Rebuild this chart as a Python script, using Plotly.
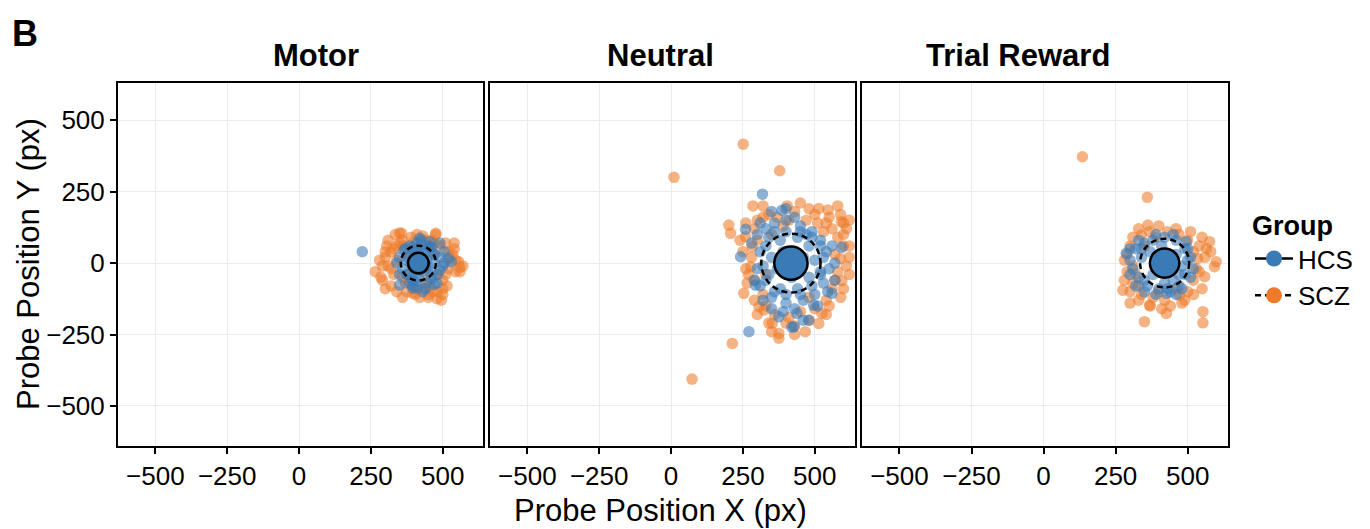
import plotly.graph_objects as go

# ---------------- data ----------------
panels = ["Motor", "Neutral", "Trial Reward"]
groups = ["HCS", "SCZ"]
tick_vals = [-500, -250, 0, 250, 500]
tick_text = ["\u2212500", "\u2212250", "0", "250", "500"]

# Motor
motor_hcs_x = [220, 350, 370, 385, 400, 410, 425, 440, 455, 470, 490, 505, 360, 380, 395, 415, 430, 445, 460, 480,
               500, 375, 390, 405, 420, 435, 450, 465, 395, 410, 425, 440, 455, 340, 520, 470, 430, 400, 385, 450,
               420, 490, 530, 350, 396,
               400, 440, 380, 460, 430, 395, 445, 470, 375, 410, 460, 490, 365, 420, 350, 505, 480, 415]
motor_hcs_y = [40, 20, 50, 60, 30, 70, 65, 45, 55, 30, 20, 0, -20, -40, -60, -50, -30, -70, -55, -40,
               -10, 10, -5, 15, 25, 5, -15, 35, -80, -85, 80, -90, 75, 0, 15, -75, -100, 45, -70, 60,
               87, 70, 5, -77, -88,
               -30, -20, 20, -40, 40, 55, 10, 0, -40, -65, 55, -25, 45, -25, -40, 40, -70, 40]
motor_scz_x = [265, 280, 290, 300, 310, 320, 335, 350, 365, 375, 390, 405, 420, 435, 450, 465, 480, 495, 510, 525,
               540, 560, 570, 300, 320, 340, 360, 380, 400, 430, 460, 490, 515, 545, 330, 350, 370, 445, 475, 500,
               520, 440, 470, 485, 310, 357, 476,
               285, 300, 320, 340, 360, 380, 395, 410, 455, 480, 500, 520, 535, 545, 510, 470, 440, 410, 360, 330,
               305, 290, 555, 500, 450, 540, 340, 560]
motor_scz_y = [-30, 10, -60, 40, 80, -80, 100, 105, 60, -100, 90, -110, -120, -90, -110, -100, -125, -130, -40, 20,
               50, -15, -10, 20, -20, 60, -50, 30, 75, 95, 80, 60, -80, 10, -40, 70, -70, -60, 100, -90,
               40, -20, 30, -40, -10, 104, 104,
               -50, -90, 40, -100, -120, -60, -105, -90, -80, -100, -60, -20, 30, -30, 70, 70, 80, 100, 80, 50,
               60, -10, 5, -110, -120, 70, 10, -30]

# Neutral
neutral_hcs_x = [318, 386, 259, 594, 242, 294, 560, 496, 479, 438, 427, 375, 271, 420,
                 330, 360, 400, 450, 490, 520, 540, 550, 530, 500, 460, 400, 350, 310, 300, 310, 340, 380, 440,
                 480, 500, 480, 440, 380, 340, 350, 390, 460, 420, 370, 520, 320, 470, 560, 390, 350, 510, 430,
                 300, 330, 320, 330, 360, 400, 450, 490, 520, 530, 520, 490, 450, 400, 360, 310, 570, 545, 350,
                 430, 290, 570, 280, 460, 400]
neutral_hcs_y = [241, 185, 118, 55, 22, -77, -106, -147, -200, -176, -223, -188, -240, -224,
                 120, 140, 150, 130, 110, 80, 40, -20, -70, -110, -130, -140, -120, -80, -20, 40, 90, 80, 90,
                 60, 10, -50, -90, -90, -40, 20, 40, 20, -50, -20, -40, -130, 100, 60, -170, -160, -150, 160,
                 100, 60, -10, -60, -100, -110, -110, -80, -30, 20, 60, 90, 110, 110, 110, 140, 0, -100, 180,
                 -160, -60, -60, 70, -200, 190]
neutral_scz_x = [10, 251, 378, 73, 213, 404, 514, 546, 592, 201, 207, 259, 589, 594, 282, 277, 253, 525, 514, 467,
                 375, 352, 306, 323, 375,
                 300, 340, 390, 430, 470, 510, 560, 580, 600, 570, 580, 560, 540, 500, 450, 410, 360, 320, 290, 280,
                 300, 330, 350, 480, 550, 610, 620, 270, 240, 260, 320, 450, 590, 480, 530, 400, 290, 600, 620, 570,
                 250, 265, 300, 340, 430, 480, 540, 600, 620, 610, 290, 320, 370, 410, 500, 540, 590, 580, 260, 350,
                 430, 550, 285, 620, 330, 600]
neutral_scz_y = [300, 416, 323, -406, -281, 200, 191, 186, 145, 133, 104, 92, 16, -62, 57, -13, -106, -176, -211, -240,
                 -246, -211, -153, -164, -263,
                 150, 170, 130, 180, 150, 140, 120, 90, 60, 30, -30, -90, -130, -160, -170, -190, -180, -110, -60, 20,
                 80, -40, 100, -120, 160, 120, -40, -40, 80, 140, 200, 210, -120, 190, 110, -210, -130, 100, 20, -60,
                 40, -70, -180, -210, -220, -200, -180, -90, 60, -10, 120, 160, 160, 150, 170, 140, 170, 200, -20, -240,
                 -250, -150, 200, 150, -150, 140]

# Trial Reward
trial_hcs_x = [287, 426, 495, 300, 320, 350, 380, 420, 460, 490, 500, 490, 470, 440, 400, 360, 330, 310, 340, 370,
               460, 480, 450, 380, 420, 350, 410, 510, 330, 460,
               300, 320, 350, 390, 430, 480, 510, 500, 450, 390, 340, 300, 470, 520]
trial_hcs_y = [34, -106, 75, 10, 50, 70, 80, 90, 80, 50, 10, -40, -80, -100, -90, -80, -50, -20, 20, 40,
               30, -10, -60, -40, -70, -100, 60, -50, 80, -110,
               -40, -80, -60, -110, -90, -90, 20, 50, 100, 100, 50, 50, -40, -20]
trial_scz_x = [135, 360, 362, 368, 339, 576, 565, 599, 593, 559, 281, 275, 368, 350, 426, 553, 553, 472, 535,
               300, 320, 310, 340, 380, 420, 460, 500, 520, 530, 520, 500, 470, 430, 390, 350, 290, 330, 400, 480,
               540, 300, 310, 440,
               290, 280, 300, 330, 370, 410, 490, 520, 550, 560, 550, 510, 460, 400, 330, 310, 580, 540]
trial_scz_y = [372, 230, 133, 110, 98, 75, 51, 5, -13, -48, 10, -95, -147, -205, -176, -170, -209, -112, 16,
               60, -40, -70, -110, -120, -130, -90, -100, -60, -20, 40, 80, 100, 110, 90, 60, -30, -130, -100, -140,
               60, -100, 90, -150,
               30, -60, -140, -80, -150, -160, -130, -110, -90, 20, 90, 110, 120, 130, 120, -10, 40, -30]

# group mean circles (centre and radius, in px units)
hcs_cx = [415, 417, 420]
hcs_cy = [0, 0, 0]
hcs_r = [36, 58, 51]
scz_cx = [415, 417, 420]
scz_cy = [0, 0, 0]
scz_r = [61, 103, 85]

# ---------------- styling ----------------
BLUE = "#3A7BB6"
ORANGE = "#EE7A2A"
FONT = "Liberation Sans, Arial, sans-serif"
W, H = 1370, 529

def px(x):
    return x / W

def py(y):
    return 1 - y / H

x_domains = [[118 / W, 483 / W], [490 / W, 855 / W], [862 / W, 1228 / W]]
y_domain = [1 - 446 / H, 1 - 83 / H]

data = [
    (motor_hcs_x, motor_hcs_y, motor_scz_x, motor_scz_y),
    (neutral_hcs_x, neutral_hcs_y, neutral_scz_x, neutral_scz_y),
    (trial_hcs_x, trial_hcs_y, trial_scz_x, trial_scz_y),
]

fig = go.Figure()
shapes = []
for i, (hx, hy, sx, sy) in enumerate(data):
    xa = "x" if i == 0 else f"x{i+1}"
    ya = "y" if i == 0 else f"y{i+1}"
    fig.add_trace(go.Scatter(x=sx, y=sy, mode="markers", xaxis=xa, yaxis=ya, showlegend=False,
                             marker=dict(color=ORANGE, size=11.5, opacity=0.58, line=dict(width=0))))
    fig.add_trace(go.Scatter(x=hx, y=hy, mode="markers", xaxis=xa, yaxis=ya, showlegend=False,
                             marker=dict(color=BLUE, size=11.5, opacity=0.58, line=dict(width=0))))
    shapes.append(dict(type="circle", xref=xa, yref=ya,
                       x0=scz_cx[i] - scz_r[i], x1=scz_cx[i] + scz_r[i],
                       y0=scz_cy[i] - scz_r[i], y1=scz_cy[i] + scz_r[i],
                       line=dict(color="black", width=2.5, dash="6px,4px"), fillcolor="rgba(0,0,0,0)"))
    shapes.append(dict(type="circle", xref=xa, yref=ya,
                       x0=hcs_cx[i] - hcs_r[i], x1=hcs_cx[i] + hcs_r[i],
                       y0=hcs_cy[i] - hcs_r[i], y1=hcs_cy[i] + hcs_r[i],
                       line=dict(color="black", width=2.5), fillcolor=BLUE))

# legend entries
fig.add_trace(go.Scatter(x=[None], y=[None], mode="lines+markers", name="HCS",
                         line=dict(color="black", width=2.5),
                         marker=dict(color=BLUE, size=16, line=dict(width=0))))
fig.add_trace(go.Scatter(x=[None], y=[None], mode="lines+markers", name="SCZ",
                         line=dict(color="black", width=2.5, dash="6px,4px"),
                         marker=dict(color=ORANGE, size=16, line=dict(width=0))))

axis_common = dict(showline=True, linecolor="black", linewidth=2, mirror=True,
                   showgrid=True, gridcolor="#EBEBEB", gridwidth=1, zeroline=False,
                   tickmode="array", tickvals=tick_vals, ticktext=tick_text,
                   ticks="outside", ticklen=6, tickwidth=2, tickcolor="black",
                   tickfont=dict(family=FONT, size=26, color="black"))

layout = dict(width=W, height=H, margin=dict(l=0, r=0, t=0, b=0),
              paper_bgcolor="white", plot_bgcolor="white", shapes=shapes,
              font=dict(family=FONT, color="black"))
for i in range(3):
    xk = "xaxis" if i == 0 else f"xaxis{i+1}"
    yk = "yaxis" if i == 0 else f"yaxis{i+1}"
    xa = dict(axis_common, domain=x_domains[i], range=[-630, 640],
              anchor="y" if i == 0 else f"y{i+1}")
    ya = dict(axis_common, domain=y_domain, range=[-640, 630],
              anchor="x" if i == 0 else f"x{i+1}")
    if i > 0:
        ya["showticklabels"] = False
        ya["ticks"] = ""
    layout[xk] = xa
    layout[yk] = ya

layout["legend"] = dict(x=px(1250), y=py(200), xanchor="left", yanchor="top",
                        title=dict(text="<b>Group</b>", font=dict(family=FONT, size=27)),
                        font=dict(family=FONT, size=26), bgcolor="rgba(0,0,0,0)",
                        itemwidth=38, tracegroupgap=0)

ann = []
ann.append(dict(text="<b>B</b>", x=px(10), y=py(33), xref="paper", yref="paper",
                xanchor="left", yanchor="middle", showarrow=False, font=dict(family=FONT, size=36)))
title_centers = [316, 660, 1018]
for name, c in zip(panels, title_centers):
    ann.append(dict(text=f"<b>{name}</b>", x=px(c), y=py(55), xref="paper", yref="paper",
                    xanchor="center", yanchor="middle", showarrow=False, font=dict(family=FONT, size=31)))
ann.append(dict(text="Probe Position X (px)", x=px(660), y=py(510), xref="paper", yref="paper",
                xanchor="center", yanchor="middle", showarrow=False, font=dict(family=FONT, size=31)))
ann.append(dict(text="Probe Position Y (px)", x=px(28), y=py(264), xref="paper", yref="paper",
                xanchor="center", yanchor="middle", showarrow=False, textangle=-90,
                font=dict(family=FONT, size=31)))
layout["annotations"] = ann

fig.update_layout(**layout)
fig.write_html("out.html")
